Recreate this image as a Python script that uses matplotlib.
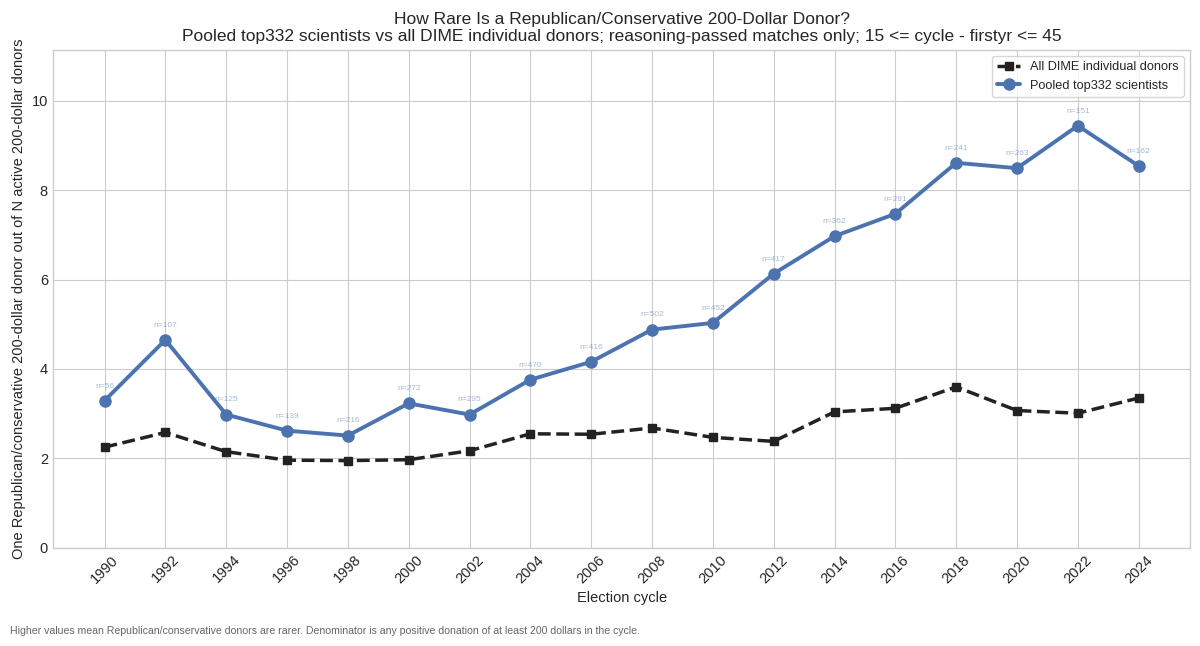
import matplotlib
matplotlib.use("Agg")
import matplotlib.pyplot as plt

cycles = [1990, 1992, 1994, 1996, 1998, 2000, 2002, 2004, 2006, 2008,
          2010, 2012, 2014, 2016, 2018, 2020, 2022, 2024]
dime = [2.25, 2.58, 2.15, 1.96, 1.95, 1.97, 2.17, 2.55, 2.54, 2.68,
        2.47, 2.38, 3.04, 3.12, 3.60, 3.07, 3.01, 3.35]
sci = [3.29, 4.65, 2.98, 2.62, 2.51, 3.23, 2.98, 3.76, 4.16, 4.88,
       5.03, 6.13, 6.97, 7.47, 8.61, 8.49, 9.44, 8.54]
n_sci = [56, 107, 125, 139, 216, 272, 295, 470, 416, 502,
         452, 417, 362, 291, 241, 263, 151, 162]

plt.style.use("seaborn-v0_8-whitegrid")
plt.rcParams["font.family"] = ["Liberation Sans", "DejaVu Sans"]
fig, ax = plt.subplots(figsize=(12, 6.46), dpi=100)
fig.subplots_adjust(left=0.044, right=0.992, top=0.923, bottom=0.152)

ax.plot(cycles, dime, color="#222222", linestyle="--", marker="s",
        markersize=6, linewidth=2.5, label="All DIME individual donors")
ax.plot(cycles, sci, color="#4C72B0", marker="o", markersize=8,
        linewidth=2.8, label="Pooled top332 scientists")
for x, y, n in zip(cycles, sci, n_sci):
    ax.annotate(f"n={n}", (x, y), xytext=(0, 8), textcoords="offset points",
                ha="center", va="bottom", fontsize=6, color="#4C72B0", alpha=0.5)

ax.set_ylim(0, max(sci) * 1.18)
ax.set_xticks(cycles)
ax.set_xticklabels([str(c) for c in cycles], rotation=45, fontsize=10.5)
ax.tick_params(axis="y", labelsize=10.5)
ax.set_xlabel("Election cycle", fontsize=10.5)
ax.set_ylabel("One Republican/conservative 200-dollar donor out of N active 200-dollar donors",
              fontsize=10.5)
ax.set_title("How Rare Is a Republican/Conservative 200-Dollar Donor?\n"
             "Pooled top332 scientists vs all DIME individual donors; "
             "reasoning-passed matches only; 15 <= cycle - firstyr <= 45",
             fontsize=12.5)
for s in ax.spines.values():
    s.set_visible(True)
    s.set_color("#cccccc")
ax.legend(loc="upper right", frameon=True, fontsize=9.2, handlelength=1.8)
fig.text(0.008, 0.018, "Higher values mean Republican/conservative donors are rarer. "
         "Denominator is any positive donation of at least 200 dollars in the cycle.",
         fontsize=7.6, color="#666666")
fig.savefig("out.png")
